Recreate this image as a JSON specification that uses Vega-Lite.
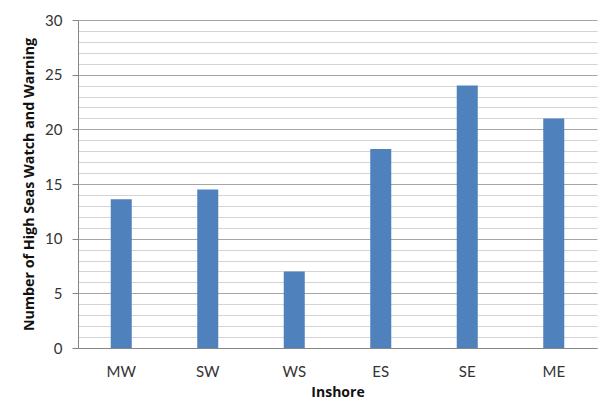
{
  "$schema": "https://vega.github.io/schema/vega-lite/v6.json",
  "width": 519,
  "height": 328,
  "autosize": {"type": "none"},
  "padding": {"left": 78, "top": 20, "right": 8, "bottom": 70},
  "background": "white",
  "data": {
    "values": [
      {"region": "MW", "count": 13.6},
      {"region": "SW", "count": 14.5},
      {"region": "WS", "count": 7},
      {"region": "ES", "count": 18.2},
      {"region": "SE", "count": 24},
      {"region": "ME", "count": 21}
    ]
  },
  "mark": {"type": "bar", "color": "#4f81bd", "width": {"band": 0.243}},
  "encoding": {
    "x": {
      "field": "region",
      "type": "nominal",
      "sort": null,
      "scale": {"paddingInner": 0, "paddingOuter": 0},
      "axis": {
        "title": "Inshore",
        "labelAngle": 0,
        "ticks": false,
        "labelPadding": 16,
        "labelFont": "Lato",
        "labelFontSize": 15,
        "labelColor": "#333333",
        "titleFont": "Open Sans",
        "titleFontSize": 14,
        "titleFontWeight": "bold",
        "titleColor": "#111111",
        "titlePadding": 6,
        "domainColor": "#868686",
        "grid": false
      }
    },
    "y": {
      "field": "count",
      "type": "quantitative",
      "scale": {"domain": [0, 30], "nice": false},
      "axis": {
        "title": "Number of High Seas Watch and Warning",
        "values": [0, 1, 2, 3, 4, 5, 6, 7, 8, 9, 10, 11, 12, 13, 14, 15, 16, 17, 18, 19, 20, 21, 22, 23, 24, 25, 26, 27, 28, 29, 30],
        "labelExpr": "datum.value % 5 === 0 ? datum.label : ''",
        "labelFont": "Lato",
        "labelFontSize": 15,
        "labelColor": "#333333",
        "labelPadding": 10,
        "tickSize": 6,
        "tickColor": {"condition": {"test": "datum.value % 5 === 0", "value": "#868686"}, "value": "transparent"},
        "gridColor": {"condition": {"test": "datum.value % 5 === 0", "value": "#a6a6a6"}, "value": "#d4d4d4"},
        "grid": true,
        "domainColor": "#868686",
        "titleFont": "Open Sans",
        "titleFontSize": 14.3,
        "titleFontWeight": "bold",
        "titleColor": "#111111",
        "titlePadding": 8
      }
    }
  },
  "config": {"view": {"stroke": null}}
}
